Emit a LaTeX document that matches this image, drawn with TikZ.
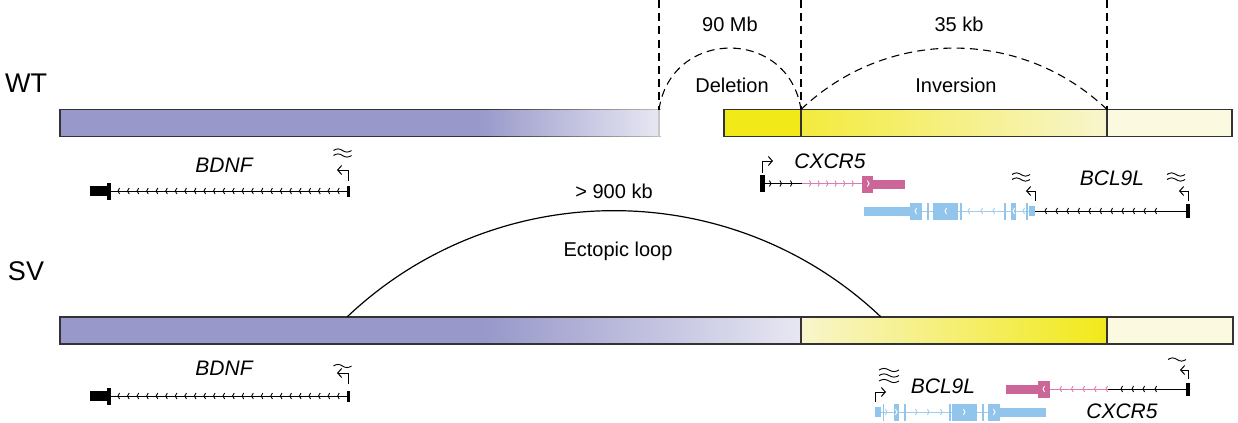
\documentclass[tikz,border=0pt]{standalone}
\usepackage{fontspec}
\setmainfont{Liberation Sans}
\usetikzlibrary{arrows.meta}
\definecolor{purp}{RGB}{152,152,202}
\definecolor{purpl}{RGB}{231,231,243}
\definecolor{ybright}{RGB}{242,233,25}
\definecolor{ymid}{RGB}{243,235,60}
\definecolor{ypale}{RGB}{248,245,205}
\definecolor{ycream}{RGB}{252,249,225}
\definecolor{exonblue}{RGB}{146,197,235}
\definecolor{intblue}{RGB}{160,205,238}
\definecolor{pinkx}{RGB}{204,102,153}
\definecolor{pinkint}{RGB}{220,125,175}
\newcommand\chevL[3]{\draw[line width=0.45pt,#3,shift={(#1,#2)}] (1.6,-3) -- (0,0) -- (1.6,3);}
\newcommand\chevR[3]{\draw[line width=0.45pt,#3,shift={(#1,#2)}] (-1.6,-3) -- (0,0) -- (-1.6,3);}
\newcommand\wavy[3]{\draw[line width=0.45pt] ({#1-#3/2},#2) sin ({#1-#3/4},{#2-1.6}) cos (#1,#2) sin ({#1+#3/4},{#2+1.6}) cos ({#1+#3/2},#2);}
\newcommand\bluegene{%
  \draw[intblue,line width=0.5pt] (-125,0) -- (0,0);
  \fill[exonblue] (-171,-4.5) rectangle (-125,4.5);
  \fill[exonblue] (-125,-8.5) rectangle (-113,8.5);
  \fill[exonblue] (-108.5,-8.5) rectangle (-106.5,8.5);
  \fill[exonblue] (-102,-8.5) rectangle (-77,8.5);
  \fill[exonblue] (-75.5,-8.5) rectangle (-73.5,8.5);
  \foreach \p in {-67,-54,-42,-12} {\chevL{\p}{0}{intblue}}
  \fill[exonblue] (-31,-8.5) rectangle (-29,8.5);
  \fill[exonblue] (-24,-8.5) rectangle (-19,8.5);
  \fill[exonblue] (-9,-8.5) rectangle (-7.5,8.5);
  \fill[exonblue] (-6,-5) rectangle (0,5);
  \foreach \p in {-120,-90,-22} {\chevL{\p}{0}{white}}
}
\newcommand\bdnfgene[1]{%
  \fill (90,{#1-5}) rectangle (107,{#1+5});
  \fill (107,{#1-8.5}) rectangle (111,{#1+8.5});
  \draw[line width=0.5pt] (111,#1) -- (348,#1);
  \fill (347,{#1-5.5}) rectangle (349.5,{#1+5.5});
  \foreach \k in {0,...,23} {\chevL{118+9.55*\k}{#1}{black}}
}
\begin{document}
\begin{tikzpicture}[x=0.5pt,y=-0.5pt,
  bord/.style={draw=black!80,line width=0.65pt},
  dsh/.style={dash pattern=on 4pt off 2.6pt, line width=0.55pt},
  lbl/.style={font=\fontsize{10}{12}\selectfont, anchor=base, inner sep=0pt},
  glbl/.style={font=\fontsize{10.5}{12}\selectfont\itshape, anchor=base, inner sep=0pt},
  big/.style={font=\fontsize{13.5}{15}\selectfont, anchor=base, inner sep=0pt},
  tss/.style={line width=0.5pt, -{Straight Barb[length=2pt,width=4.5pt,line width=0.5pt]}}
]
\useasboundingbox (0,0) rectangle (1238,423);

% ---------- WT bars ----------
\fill[purp] (60,109.5) rectangle (478,136.5);
\shade[left color=purp,right color=purpl] (477,109.5) rectangle (659,136.5);
\draw[black!80,line width=0.65pt] (481,109.5) -- (60,109.5) -- (60,136.5) -- (481,136.5);
\foreach \k in {0,...,17} {
  \pgfmathsetmacro\shadeval{80-3.1*\k}
  \draw[black!\shadeval,line width=0.65pt] ({480+10*\k},109.5) -- ({490.5+10*\k},109.5);
  \draw[black!\shadeval,line width=0.65pt] ({480+10*\k},136.5) -- ({490.5+10*\k},136.5);
}
\draw[black!22,line width=0.65pt] (659,109.5) -- (659,136.5);

\fill[ybright] (724,109.5) rectangle (801,136.5);
\shade[left color=ymid,right color=ypale] (801,109.5) rectangle (1107,136.5);
\fill[ycream] (1107,109.5) rectangle (1232,136.5);
\draw[bord] (724,109.5) rectangle (1232,136.5);
\draw[bord] (801,109.5) -- (801,136.5);
\draw[bord] (1107,109.5) -- (1107,136.5);

% ---------- breakpoints ----------
\coordinate (b1) at (659,109.5);
\coordinate (b2) at (801,109.5);
\coordinate (b3) at (1107,109.5);
\coordinate (t1) at (659,0);
\coordinate (t2) at (801,0);
\coordinate (t3) at (1107,0);
\draw[dsh] (t1) -- (b1);
\draw[dsh] (t2) -- (b2);
\draw[dsh] (t3) -- (b3);
\draw[dsh] (b1) .. controls (671.4,27.6) and (788.6,27.6) .. (b2);
\draw[dsh] (b2) .. controls (886.9,27.6) and (1021.1,27.6) .. (b3);

\node[lbl] (mb) at (730,32) {90 Mb};
\node[lbl] (kb) at (959,32) {35 kb};
\node[lbl] (del) at (732,92) {Deletion};
\node[lbl] (inv) at (956,92) {Inversion};
\node[big] (wt) at (26,92) {WT};
\node[big] (sv) at (26,280) {SV};

% ---------- WT genes ----------
\bdnfgene{191}
\draw[tss] (348,181) -- (348,170) -- (337,170);
\wavy{342.5}{150.5}{18}
\wavy{342.5}{155.5}{18}
\node[glbl] (bdnf1) at (224,172) {BDNF};

% CXCR5 WT
\fill (760,175) rectangle (765,192);
\draw[line width=0.5pt] (762,183.5) -- (802,183.5);
\draw[pinkint,line width=0.5pt] (802,183.5) -- (862,183.5);
\foreach \p in {771,781.5,792} {\chevR{\p}{183.5}{black}}
\foreach \p in {811,819.5,828,836.5,845,853.5} {\chevR{\p}{183.5}{pinkint}}
\fill[pinkx] (862,175.5) rectangle (873,192.5);
\fill[pinkx] (873,179.5) rectangle (905,188.5);
\chevR{869}{183.5}{white}
\draw[tss] (762.5,173) -- (762.5,161) -- (773,161);
\node[glbl] (cx1) at (830,168) {CXCR5};

% BCL9L WT
\draw[line width=0.5pt] (1035,211) -- (1188,211);
\foreach \k in {0,...,10} {\chevL{1045+11*\k}{211}{black}}
\fill (1186,204) rectangle (1190,218);
\begin{scope}[shift={(1035,211)}]
\bluegene
\end{scope}
\draw[tss] (1035,201) -- (1035,191) -- (1026,191);
\draw[tss] (1188,201) -- (1188,191) -- (1179,191);
\wavy{1021}{174.5}{18}
\wavy{1021}{179.5}{18}
\wavy{1176}{174.5}{18}
\wavy{1176}{179.5}{18}
\node[glbl] (bc1) at (1112,185) {BCL9L};

% ---------- SV bars ----------
\fill[purp] (60,317) rectangle (484,344);
\shade[left color=purp,right color=purpl] (483,317) rectangle (801,344);
\shade[left color=ypale,right color=ybright] (801,317) rectangle (1107,344);
\fill[ycream] (1107,317) rectangle (1233,344);
\draw[bord] (60,317) rectangle (1233,344);
\draw[bord] (801,317) -- (801,344);
\draw[bord] (1107,317) -- (1107,344);

\coordinate (e1) at (347,317);
\coordinate (e2) at (881,317);
\draw[line width=0.6pt] (e1) .. controls (496.4,175.2) and (731.6,175.2) .. (e2);
\node[lbl] (gt) at (614,198) {> 900 kb};
\node[lbl] (loop) at (618,256) {Ectopic loop};

% ---------- SV genes ----------
\bdnfgene{396}
\draw[tss] (348,384) -- (348,373) -- (337,373);
\wavy{342.5}{366}{18}
\node[glbl] (bdnf2) at (224,375) {BDNF};

% BCL9L SV
\begin{scope}[shift={(875,412)},xscale=-1]
\bluegene
\end{scope}
\draw[tss] (875.5,402) -- (875.5,392) -- (886,392);
\wavy{889}{370}{20}
\wavy{889}{375.5}{20}
\wavy{889}{381}{20}
\node[glbl] (bc2) at (943,393) {BCL9L};

% CXCR5 SV
\draw[line width=0.5pt] (1108,389) -- (1188,389);
\draw[pinkint,line width=0.5pt] (1050,389) -- (1108,389);
\foreach \p in {1060,1071.5,1083,1094.5,1106} {\chevL{\p}{389}{pinkint}}
\foreach \p in {1121,1132,1143,1155} {\chevL{\p}{389}{black}}
\fill[pinkx] (1038,380.5) rectangle (1050,397.5);
\fill[pinkx] (1006,384.5) rectangle (1038,393.5);
\chevL{1043}{389}{white}
\fill (1186,382.5) rectangle (1190,395.5);
\draw[tss] (1188,379) -- (1188,370) -- (1180,370);
\wavy{1177}{359.5}{18}
\node[glbl] (cx2) at (1122,418) {CXCR5};
\end{tikzpicture}
\end{document}
